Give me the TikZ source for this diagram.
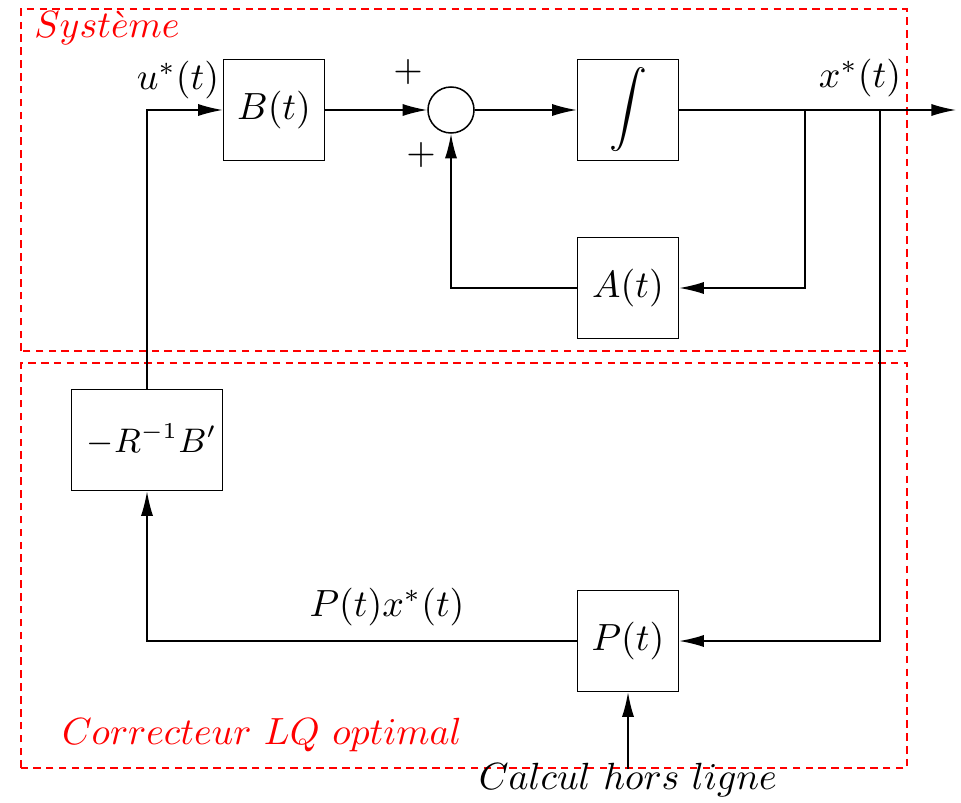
\documentclass[tikz,border=0pt]{standalone}
\usepackage{amsmath,amssymb}
\usepackage{xcolor}
\usetikzlibrary{arrows.meta,positioning}

\begin{document}
\begin{tikzpicture}[x=0.928mm,y=0.928mm,
  bloc/.style={draw,minimum width=9.37mm,minimum height=9.37mm,inner sep=0pt},
  somme/.style={draw,circle,minimum size=4.27mm,inner sep=0pt},
  fleche/.style={-{Latex[length=6.5pt,width=3.2pt]}},
  zone/.style={draw=red,dash pattern=on 2pt off 1.4pt}]
\useasboundingbox (0,0) rectangle (96.1,80.2);
% zones
\draw[zone] (2.1,45.1) rectangle (90.7,79.3);
\draw[zone] (2.1,3.4) rectangle (90.7,43.9);
\node[red] (sys) at (10.7,77.4) {$Syst\grave{e}me$};
\node[red] (cor) at (26.2,6.7) {$Correcteur\ LQ\ optimal$};
% blocs
\node[bloc] (B) at (27.4,69.2) {$B(t)$};
\node[somme] (S) at (45.1,69.2) {};
\node[bloc] (I) at (62.8,69.2) {$\displaystyle\int$};
\node[bloc] (A) at (62.8,51.4) {$A(t)$};
\node[bloc,minimum width=14mm,font=\small] (K) at (14.7,36.2) {\hspace*{0.9mm}$-R^{-1}B'$};
\node[bloc] (P) at (62.8,16.1) {$P(t)$};
\node (calc) at (62.8,2.2) {$Calcul\ hors\ ligne$};
\coordinate (d1) at (80.5,69.2);
\coordinate (d2) at (88.0,69.2);
\coordinate (out) at (95.6,69.2);
\coordinate (c0) at (62.8,3.3);
% liaisons
\draw[fleche] (B) -- (S);
\draw[fleche] (S) -- (I);
\draw[fleche] (I) -- (out);
\draw[fleche] (d1) |- (A);
\draw[fleche] (A) -| (S);
\draw[fleche] (d2) |- (P);
\draw[fleche] (P) -| (K);
\draw[fleche] (K) |- (B);
\draw[fleche] (c0) -- (P);
% etiquettes
\node at (17.8,72.2) {$u^*(t)$};
\node at (86.0,72.4) {$x^*(t)$};
\node at (38.7,19.5) {$P(t)x^*(t)$};
\node at (40.8,73.0) {$+$};
\node at (42.1,64.7) {$+$};
\end{tikzpicture}
\end{document}
